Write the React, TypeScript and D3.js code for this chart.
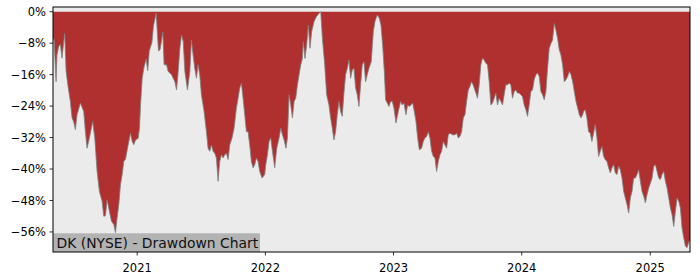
import React from "react";
import * as d3 from "d3";

// Decimal-year timestamps and drawdown (%)
const dateYears: number[] = [
  2020.345, 2020.353, 2020.369, 2020.376, 2020.389, 2020.402, 2020.415, 2020.436, 2020.447, 2020.462,
  2020.480, 2020.493, 2020.506, 2020.519, 2020.532, 2020.558, 2020.584, 2020.597, 2020.610, 2020.628,
  2020.654, 2020.670, 2020.688, 2020.706, 2020.727, 2020.740, 2020.753, 2020.766, 2020.784, 2020.800,
  2020.818, 2020.831, 2020.844, 2020.857, 2020.870, 2020.883, 2020.896, 2020.909, 2020.930, 2020.948,
  2020.961, 2020.974, 2020.987, 2021.008, 2021.018, 2021.026, 2021.039, 2021.054, 2021.070, 2021.082,
  2021.094, 2021.115, 2021.127, 2021.148, 2021.166, 2021.179,
  2021.200, 2021.210, 2021.229, 2021.242, 2021.268, 2021.294, 2021.307, 2021.320, 2021.333, 2021.346,
  2021.359, 2021.372, 2021.392, 2021.411, 2021.423, 2021.436, 2021.449, 2021.462, 2021.475, 2021.488,
  2021.501, 2021.522, 2021.540, 2021.553, 2021.566, 2021.579, 2021.592, 2021.605, 2021.618, 2021.631,
  2021.644, 2021.657, 2021.670, 2021.683, 2021.696, 2021.709, 2021.722, 2021.740, 2021.756, 2021.774,
  2021.787, 2021.800, 2021.813, 2021.826, 2021.839, 2021.852, 2021.865, 2021.878, 2021.891, 2021.904,
  2021.917, 2021.930, 2021.943, 2021.956, 2021.974, 2021.995,
  2022.003, 2022.016, 2022.029, 2022.042, 2022.055, 2022.073, 2022.089, 2022.107, 2022.120, 2022.133,
  2022.146, 2022.161, 2022.172, 2022.185, 2022.198, 2022.211, 2022.224, 2022.237, 2022.250, 2022.263,
  2022.276, 2022.289, 2022.296, 2022.309, 2022.322, 2022.335, 2022.348, 2022.361, 2022.380, 2022.398,
  2022.419, 2022.432, 2022.445, 2022.463, 2022.478, 2022.496, 2022.509, 2022.522, 2022.535, 2022.548,
  2022.561, 2022.574, 2022.587, 2022.600, 2022.613, 2022.626, 2022.639, 2022.652, 2022.665, 2022.678,
  2022.691, 2022.704, 2022.717, 2022.730, 2022.743, 2022.756, 2022.769, 2022.782, 2022.795, 2022.808,
  2022.826, 2022.842, 2022.855, 2022.873, 2022.889, 2022.902, 2022.915, 2022.928, 2022.938, 2022.951,
  2022.964, 2022.977, 2022.990,
  2023.003, 2023.019, 2023.037, 2023.055, 2023.068, 2023.081, 2023.097, 2023.110, 2023.123, 2023.136,
  2023.149, 2023.162, 2023.175, 2023.188, 2023.201, 2023.219, 2023.232, 2023.245, 2023.258, 2023.271,
  2023.284, 2023.297, 2023.310, 2023.323, 2023.336, 2023.349, 2023.362, 2023.375, 2023.388, 2023.401,
  2023.414, 2023.427, 2023.440, 2023.460, 2023.479, 2023.492, 2023.505, 2023.518, 2023.531, 2023.544,
  2023.557, 2023.570, 2023.583, 2023.596, 2023.608, 2023.621, 2023.634, 2023.647, 2023.655, 2023.668,
  2023.681, 2023.694, 2023.707, 2023.720, 2023.733, 2023.746, 2023.759, 2023.772, 2023.785, 2023.798,
  2023.811, 2023.824, 2023.837, 2023.850, 2023.863, 2023.876, 2023.889, 2023.902, 2023.915, 2023.928,
  2023.941, 2023.954, 2023.967, 2023.980, 2023.993,
  2024.006, 2024.019, 2024.032, 2024.045, 2024.058, 2024.071, 2024.084, 2024.097, 2024.110, 2024.123,
  2024.136, 2024.149, 2024.162, 2024.175, 2024.188, 2024.201, 2024.214, 2024.227, 2024.240, 2024.253,
  2024.266, 2024.279, 2024.292, 2024.305, 2024.318, 2024.331, 2024.344, 2024.357, 2024.370, 2024.383,
  2024.396, 2024.409, 2024.422, 2024.435, 2024.448, 2024.461, 2024.474, 2024.481, 2024.494, 2024.507,
  2024.520, 2024.533, 2024.546, 2024.559, 2024.572, 2024.585, 2024.598, 2024.611, 2024.624, 2024.637,
  2024.650, 2024.663, 2024.676, 2024.689, 2024.702, 2024.715, 2024.728, 2024.741, 2024.754, 2024.767,
  2024.780, 2024.793, 2024.806, 2024.819, 2024.832, 2024.845, 2024.858, 2024.871, 2024.884, 2024.897,
  2024.910, 2024.923, 2024.936, 2024.949, 2024.962, 2024.975, 2024.988,
  2025.001, 2025.014, 2025.027, 2025.040, 2025.053, 2025.066, 2025.079, 2025.092, 2025.105, 2025.118,
  2025.131, 2025.144, 2025.157, 2025.170, 2025.183, 2025.196, 2025.209, 2025.222, 2025.235, 2025.248,
  2025.261, 2025.274, 2025.287, 2025.300, 2025.310,
];

const drawdownPct: number[] = [
  -7.2, -6.8, -17.8, -11.0, -8.9, -8.3, -11.8, -5.5, -15.2, -19.0,
  -22.8, -27.0, -28.0, -30.0, -26.2, -23.2, -25.4, -30.5, -34.7, -32.1,
  -27.9, -32.1, -40.6, -45.7, -48.2, -52.0, -51.9, -47.8, -50.8, -53.3,
  -54.1, -56.2, -52.4, -49.0, -44.0, -41.4, -38.0, -37.5, -33.8, -30.9,
  -33.0, -33.8, -32.6, -32.2, -29.6, -23.7, -16.9, -14.0, -12.0, -15.0,
  -10.0, -7.8, -3.6, -0.4, -10.0, -9.6,
  -5.2, -13.5, -13.5, -15.2, -16.0, -17.8, -19.9, -15.2, -9.3, -5.9,
  -7.6, -15.2, -19.9, -15.2, -7.2, -11.0, -14.4, -16.9, -13.5, -16.0,
  -21.1, -25.4, -30.5, -34.7, -35.5, -33.9, -35.5, -36.0, -37.2, -43.1,
  -38.1, -36.4, -37.2, -36.4, -36.0, -37.6, -33.9, -32.1, -29.6, -24.5,
  -22.0, -19.4, -18.2, -22.0, -26.2, -30.5, -30.5, -33.9, -38.1, -39.7,
  -38.9, -37.2, -38.1, -40.6, -42.3, -41.4,
  -38.9, -36.4, -33.0, -32.1, -35.5, -39.7, -34.7, -32.1, -29.6, -31.3,
  -32.6, -34.7, -32.1, -21.1, -23.7, -27.0, -22.8, -22.0, -18.6, -16.0,
  -13.5, -11.9, -7.6, -11.9, -8.5, -3.4, -9.3, -5.1, -2.5, -1.3,
  -0.4, 0.0, -6.8, -13.5, -21.1, -23.7, -27.0, -29.6, -32.6, -30.5,
  -26.2, -22.8, -25.4, -26.6, -20.7, -16.0, -14.4, -12.3, -16.9, -14.8,
  -14.4, -19.4, -21.1, -24.1, -18.6, -13.5, -12.7, -17.8, -16.0, -14.4,
  -12.7, -5.1, -2.5, -0.8, -1.7, -3.4, -8.5, -15.2, -22.4, -23.2,
  -24.1, -22.8, -22.8,
  -24.5, -28.3, -25.4, -22.8, -23.7, -23.2, -26.2, -23.7, -24.1, -23.7,
  -23.2, -25.4, -27.9, -32.1, -35.1, -34.7, -33.0, -32.1, -31.7, -30.5,
  -32.1, -35.5, -36.8, -37.2, -40.6, -38.1, -36.4, -35.5, -33.0, -33.9,
  -34.7, -31.3, -30.9, -31.3, -31.3, -30.9, -32.1, -31.7, -30.5, -27.0,
  -26.2, -22.8, -19.9, -19.0, -17.8, -18.6, -19.9, -21.1, -22.0, -18.6,
  -13.5, -11.8, -12.3, -13.1, -13.5, -17.8, -23.7, -23.2, -22.0, -20.7,
  -23.7, -22.0, -22.8, -23.7, -21.1, -18.6, -18.6, -18.2, -18.6, -22.0,
  -20.3, -19.9, -20.7, -20.7, -21.1,
  -21.6, -23.7, -24.9, -26.6, -23.7, -20.3, -19.9, -17.3, -16.0, -15.6,
  -16.5, -20.3, -21.1, -22.4, -20.3, -14.4, -9.3, -8.1, -7.2, -3.0,
  -4.7, -6.8, -9.7, -11.0, -13.5, -17.8, -17.3, -16.5, -15.2, -16.0,
  -17.8, -20.3, -22.8, -24.5, -26.2, -27.0, -26.2, -25.4, -24.9, -27.0,
  -30.5, -30.9, -33.0, -30.9, -28.7, -32.1, -36.8, -35.5, -34.3, -36.8,
  -37.6, -38.1, -39.7, -41.0, -39.7, -38.9, -41.0, -41.4, -39.3, -40.2,
  -42.3, -45.7, -47.4, -49.0, -51.2, -47.4, -45.7, -42.3, -42.3, -41.4,
  -40.2, -43.1, -45.7, -46.9, -48.6, -46.5, -44.8,
  -43.6, -42.3, -39.3, -38.9, -40.6, -42.3, -42.7, -41.4, -40.6, -43.1,
  -44.8, -47.4, -49.9, -51.6, -54.6, -50.8, -47.4, -48.2, -49.9, -55.0,
  -57.5, -59.6, -60.0, -58.7, -58.0,
];

const yTicks: number[] = [0, -8, -16, -24, -32, -40, -48, -56];
const xTickYears: number[] = [2021, 2022, 2023, 2024, 2025];
const title = "DK (NYSE) - Drawdown Chart";

function yearToDate(y: number): Date {
  const yr = Math.floor(y);
  const s = Date.UTC(yr, 0, 1);
  const e = Date.UTC(yr + 1, 0, 1);
  return new Date(s + (y - yr) * (e - s));
}

export default function App() {
  const W = 700, H = 280;
  const left = 53, right = 690, top = 7, bottom = 252;
  const font = "'DejaVu Sans', sans-serif";

  const data = dateYears.map((t, i) => ({ d: yearToDate(t), v: drawdownPct[i] }));

  const x = d3.scaleUtc()
    .domain([yearToDate(dateYears[0]), yearToDate(dateYears[dateYears.length - 1])])
    .range([left, right]);
  const y = d3.scaleLinear().domain([-61.1, 1.2]).range([bottom, top]);

  const area = d3.area<{ d: Date; v: number }>()
    .x(p => x(p.d))
    .y0(y(0))
    .y1(p => y(p.v));
  const line = d3.line<{ d: Date; v: number }>()
    .x(p => x(p.d))
    .y(p => y(p.v));

  const fmtY = (d: number) => (d === 0 ? "0%" : "\u2212" + Math.abs(d) + "%");

  return (
    <svg width={W} height={H} style={{ position: "absolute", left: 0, top: 0, background: "#fff" }}>
      <rect x={left} y={top} width={right - left} height={bottom - top} fill="#ebebeb" />
      <path d={area(data) || ""} fill="#b03030" />
      <path d={line(data) || ""} fill="none" stroke="#808080" strokeWidth={1} strokeOpacity={0.8} />
      <rect x={left} y={233.3} width={207} height={bottom - 233.3} fill="#b3b3b3" />
      <text x={56.5} y={247.5} fontFamily={font} fontSize={13.9} fill="#111">{title}</text>
      <rect x={left} y={top} width={right - left} height={bottom - top} fill="none" stroke="#000" strokeWidth={1} />
      {yTicks.map(t => (
        <g key={t}>
          <line x1={left - 3.5} x2={left} y1={y(t)} y2={y(t)} stroke="#000" strokeWidth={0.8} />
          <text x={left - 7} y={y(t)} dy="0.36em" textAnchor="end" fontFamily={font} fontSize={11.5} fill="#000">{fmtY(t)}</text>
        </g>
      ))}
      {xTickYears.map(yr => {
        const px = x(new Date(Date.UTC(yr, 0, 1)));
        return (
          <g key={yr}>
            <line x1={px} x2={px} y1={bottom} y2={bottom + 3.5} stroke="#000" strokeWidth={0.8} />
            <text x={px} y={271.5} textAnchor="middle" fontFamily={font} fontSize={11.5} fill="#000">{String(yr)}</text>
          </g>
        );
      })}
    </svg>
  );
}
